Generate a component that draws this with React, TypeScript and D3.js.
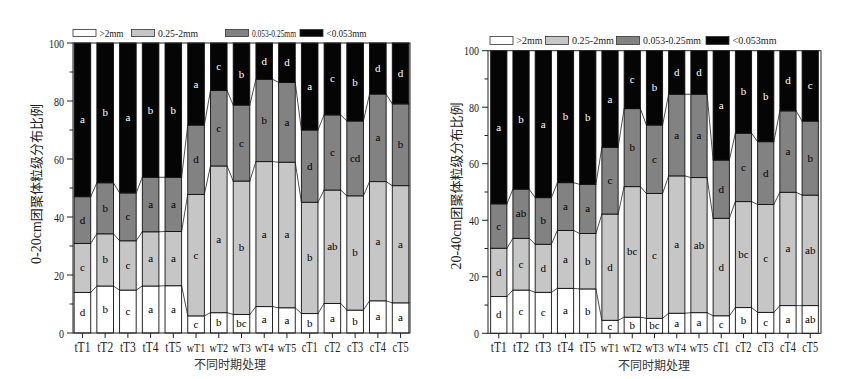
import React from 'react';
import * as d3 from 'd3';

const categories = ['tT1','tT2','tT3','tT4','tT5','wT1','wT2','wT3','wT4','wT5','cT1','cT2','cT3','cT4','cT5'];
const fractions = ['>2mm','0.25-2mm','0.053-0.25mm','<0.053mm'];

// 0-20cm
const leftGt2 = [14.0,16.2,14.8,16.2,16.3,5.9,7.0,6.4,9.1,8.7,6.7,10.2,7.9,11.1,10.4];
const left025 = [16.9,18.0,17.0,18.7,18.7,41.9,50.6,46.0,50.0,50.2,38.4,39.1,39.4,41.1,40.4];
const left0053 = [16.1,17.6,16.5,18.8,18.7,23.9,26.0,26.2,28.4,27.5,24.9,25.9,25.8,30.2,28.2];
const leftLt0053 = [53.0,48.2,51.7,46.3,46.3,28.3,16.4,21.4,12.5,13.6,30.0,24.8,26.9,17.6,21.0];
const leftLetGt2 = ['d','b','c','a','a','c','b','bc','a','a','b','a','b','a','a'];
const leftLet025 = ['c','b','c','a','a','c','a','b','a','a','b','ab','b','a','a'];
const leftLet0053 = ['d','b','c','a','a','d','c','c','b','a','d','c','cd','a','b'];
const leftLetLt = ['a','b','a','b','b','a','c','b','d','d','a','c','b','d','d'];

// 20-40cm
const rightGt2 = [13.0,15.3,14.5,15.9,15.7,4.6,5.7,5.3,7.1,7.3,6.2,9.1,7.4,9.8,9.8];
const right025 = [17.1,18.3,17.0,20.5,19.6,37.6,46.2,44.2,48.6,47.8,34.5,37.5,38.2,40.1,39.1];
const right0053 = [15.7,17.4,16.5,16.9,17.4,23.6,27.6,24.2,28.9,29.5,20.6,24.2,22.2,28.8,26.2];
const rightLt0053 = [54.2,49.0,52.0,46.7,47.3,34.2,20.5,26.3,15.4,15.4,38.7,29.2,32.2,21.3,24.9];
const rightLetGt2 = ['d','c','c','a','b','c','b','bc','a','a','c','b','c','a','ab'];
const rightLet025 = ['d','c','d','a','b','d','bc','c','a','ab','d','bc','c','a','ab'];
const rightLet0053 = ['c','ab','b','a','a','c','b','c','a','a','d','c','d','a','b'];
const rightLetLt = ['a','b','a','b','b','a','c','b','d','d','a','b','b','d','c'];

const yTicks = [0, 20, 40, 60, 80, 100];
const yMinor = [10, 30, 50, 70, 90];

const fills = ['#ffffff', '#c6c6c6', '#828282', '#050505'];
const letterColors = ['#000', '#000', '#000', '#fff'];

const SERIF = "'Liberation Serif', 'DejaVu Serif', serif";
const CJK = "'Noto Sans CJK SC', sans-serif";

type PanelProps = {
  x0: number; x1: number; yTop: number; yBot: number;
  series: number[][]; letters: string[][];
  yTitle: string; yTitleX: number; yTitleY: number;
  xTitleX: number; xTitleY: number;
  legendX: number[]; legendY: number; legendH: number; legendW: number; legendTL: number[]; legendFS: number;
  po: number;
};

function Panel(p: PanelProps) {
  const x = d3.scaleBand<string>().domain(categories).range([p.x0, p.x1]).paddingInner(0.27).paddingOuter(p.po);
  const y = d3.scaleLinear().domain([0, 100]).range([p.yBot, p.yTop]);
  const bw = x.bandwidth();
  const stacked = categories.map((_, i) => {
    let acc = 0;
    return p.series.map(s => { const lo = acc; acc += s[i]; return [lo, acc]; });
  });
  const connectors: any[] = [];
  for (let i = 0; i < categories.length - 1; i++) {
    for (let k = 0; k < 3; k++) {
      const xa = (x(categories[i]) as number) + bw;
      const xb = x(categories[i + 1]) as number;
      connectors.push(
        <line key={`c${i}-${k}`} x1={xa} x2={xb} y1={y(stacked[i][k][1])} y2={y(stacked[i + 1][k][1])} stroke="#222" strokeWidth={0.8} />
      );
    }
  }
  const split = p.yTitle.indexOf('cm') + 2;
  return (
    <g>
      {categories.map((c, i) => (
        <g key={c}>
          {stacked[i].map(([lo, hi], k) => (
            <g key={k}>
              <rect x={x(c)} y={y(hi)} width={bw} height={y(lo) - y(hi)} fill={fills[k]} stroke="#111" strokeWidth={0.9} />
              <text x={(x(c) as number) + bw / 2} y={(y(lo) + y(hi)) / 2 + 3.5} textAnchor="middle" style={{ fontFamily: SERIF, fontSize: '11px' }} fill={letterColors[k]}>{p.letters[k][i]}</text>
            </g>
          ))}
        </g>
      ))}
      {connectors}
      <rect x={p.x0} y={p.yTop} width={p.x1 - p.x0} height={p.yBot - p.yTop} fill="none" stroke="#222" strokeWidth={1} />
      {yTicks.map(t => (
        <g key={t}>
          <line x1={p.x0 - 6} x2={p.x0} y1={y(t)} y2={y(t)} stroke="#222" strokeWidth={1} />
          <text x={p.x0 - 9} y={y(t) + 4.5} textAnchor="end" textLength={String(t).length * 5} lengthAdjust="spacingAndGlyphs" style={{ fontFamily: SERIF, fontSize: '13px' }} fill="#222">{t}</text>
        </g>
      ))}
      {yMinor.map(t => (
        <line key={t} x1={p.x0 - 3.5} x2={p.x0} y1={y(t)} y2={y(t)} stroke="#222" strokeWidth={1} />
      ))}
      {categories.map(c => {
        const cx = (x(c) as number) + bw / 2;
        const isW = c[0] === 'w';
        return (
          <g key={c}>
            <line x1={cx} x2={cx} y1={p.yBot} y2={p.yBot + 5} stroke="#222" strokeWidth={1} />
            <text x={cx} y={p.yBot + 19} textAnchor="middle" textLength={isW ? 18.5 : 16} lengthAdjust="spacingAndGlyphs" style={{ fontFamily: SERIF, fontSize: isW ? '12px' : '15px' }} fill="#222">{c}</text>
          </g>
        );
      })}
      <text transform={`translate(${p.yTitleX},${p.yTitleY}) rotate(-90)`} textAnchor="middle" style={{ fontFamily: CJK, fontSize: '13px' }} fill="#222">
        <tspan style={{ fontFamily: SERIF, fontSize: '14px' }}>{p.yTitle.slice(0, split)}</tspan>
        <tspan>{p.yTitle.slice(split)}</tspan>
      </text>
      <text x={p.xTitleX} y={p.xTitleY} textAnchor="middle" style={{ fontFamily: CJK, fontSize: '12px' }} fill="#333">不同时期处理</text>
      {fractions.map((f, k) => (
        <g key={f}>
          <rect x={p.legendX[k]} y={p.legendY} width={p.legendW} height={p.legendH} fill={fills[k]} stroke="#333" strokeWidth={0.8} />
          <text x={p.legendX[k] + p.legendW + 3.5} y={p.legendY + p.legendH / 2 + 3.5} textLength={p.legendTL[k]} lengthAdjust="spacingAndGlyphs" style={{ fontFamily: SERIF, fontSize: `${p.legendFS}px` }} fill="#222">{f}</text>
        </g>
      ))}
    </g>
  );
}

export default function App() {
  return (
    <svg width={860} height={379} style={{ position: 'absolute', left: 0, top: 0, background: '#fff' }}>
      <rect x={0} y={0} width={860} height={379} fill="#fff" />
      <Panel x0={73} x1={410} yTop={43} yBot={333} po={0.05}
        series={[leftGt2, left025, left0053, leftLt0053]}
        letters={[leftLetGt2, leftLet025, leftLet0053, leftLetLt]}
        yTitle="0-20cm团聚体粒级分布比例" yTitleX={41} yTitleY={184}
        xTitleX={230} xTitleY={369}
        legendX={[73, 131.5, 225.5, 300]} legendY={29.5} legendH={7} legendW={23} legendTL={[24, 40, 44, 40]} legendFS={10} />
      <Panel x0={488} x1={821} yTop={50.7} yBot={333.3} po={0.12}
        series={[rightGt2, right025, right0053, rightLt0053]}
        letters={[rightLetGt2, rightLet025, rightLet0053, rightLetLt]}
        yTitle="20-40cm团聚体粒级分布比例" yTitleX={461} yTitleY={186}
        xTitleX={654} xTitleY={370}
        legendX={[490, 545.5, 616.5, 706]} legendY={36.5} legendH={8} legendW={23} legendTL={[26, 42, 58, 44]} legendFS={10.5} />
    </svg>
  );
}
